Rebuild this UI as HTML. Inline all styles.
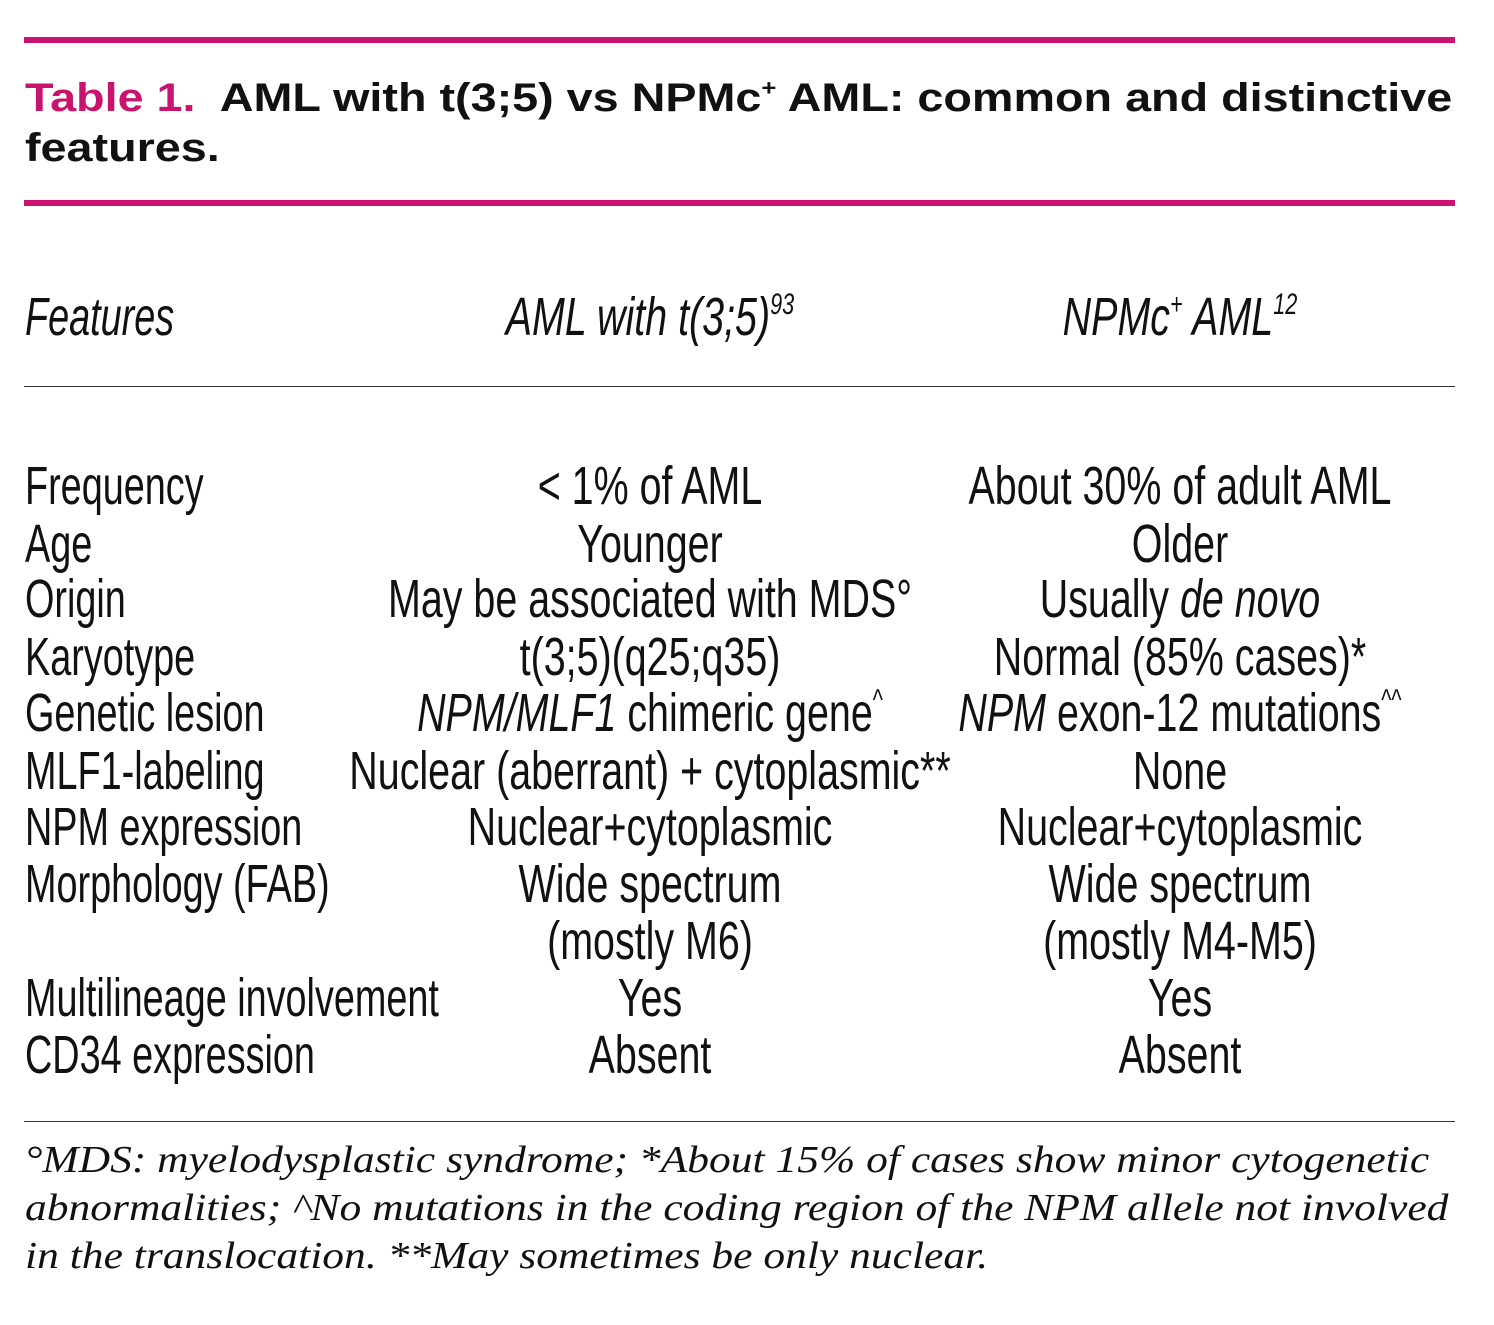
<!DOCTYPE html>
<html><head><meta charset="utf-8"><style>
html,body{margin:0;padding:0;background:#fff;}
body{width:1494px;height:1325px;position:relative;overflow:hidden;color:#111;font-family:"Liberation Sans",sans-serif;}
.bar{position:absolute;left:24px;width:1431px;height:6px;background:#c8146e;}
.thin{position:absolute;left:24px;width:1431px;height:1px;background:#333;}
.t{position:absolute;font-weight:bold;font-size:40px;line-height:40px;white-space:nowrap;left:25px;transform:scaleX(1.168);transform-origin:0 0;}
.r{position:absolute;height:60px;line-height:60px;font-size:54px;white-space:nowrap;}
.l{left:25px;transform:scaleX(0.70);transform-origin:0 0;}
.c2{left:150px;width:1000px;text-align:center;transform:scaleX(0.73);transform-origin:500px 0;}
.c3{left:680px;width:1000px;text-align:center;transform:scaleX(0.73);transform-origin:500px 0;}
sup{font-size:0.55em;line-height:0;vertical-align:0.7em;}
.f{position:absolute;left:25px;font-family:"Liberation Serif",serif;font-style:italic;font-size:38px;line-height:48px;white-space:nowrap;transform:scaleX(1.145);transform-origin:0 0;}
</style></head><body>
<div class="bar" style="top:37px"></div>
<div class="t" style="top:78px"><span style="color:#c8146e">Table 1.</span>&nbsp; AML with t(3;5) vs NPMc<sup>+</sup> AML: common and distinctive</div>
<div class="t" style="top:128px">features.</div>
<div class="bar" style="top:200px"></div>

<div class="r l" style="top:287px;font-style:italic">Features</div>
<div class="r c2" style="top:287px;font-style:italic">AML with t(3;5)<sup>93</sup></div>
<div class="r c3" style="top:287px;font-style:italic">NPMc<sup>+</sup> AML<sup>12</sup></div>
<div class="thin" style="top:386px"></div>

<div class="r l" style="top:456px">Frequency</div>
<div class="r c2" style="top:456px">&lt; 1% of AML</div>
<div class="r c3" style="top:456px">About 30% of adult AML</div>

<div class="r l" style="top:514px">Age</div>
<div class="r c2" style="top:514px">Younger</div>
<div class="r c3" style="top:514px">Older</div>

<div class="r l" style="top:569px">Origin</div>
<div class="r c2" style="top:569px">May be associated with MDS°</div>
<div class="r c3" style="top:569px">Usually <i>de novo</i></div>

<div class="r l" style="top:627px">Karyotype</div>
<div class="r c2" style="top:627px">t(3;5)(q25;q35)</div>
<div class="r c3" style="top:627px">Normal (85% cases)*</div>

<div class="r l" style="top:683px">Genetic lesion</div>
<div class="r c2" style="top:683px"><i>NPM/MLF1</i> chimeric gene<sup>^</sup></div>
<div class="r c3" style="top:683px"><i>NPM</i> exon-12 mutations<sup>^^</sup></div>

<div class="r l" style="top:741px">MLF1-labeling</div>
<div class="r c2" style="top:741px">Nuclear (aberrant) + cytoplasmic**</div>
<div class="r c3" style="top:741px">None</div>

<div class="r l" style="top:797px">NPM expression</div>
<div class="r c2" style="top:797px">Nuclear+cytoplasmic</div>
<div class="r c3" style="top:797px">Nuclear+cytoplasmic</div>

<div class="r l" style="top:854px">Morphology (FAB)</div>
<div class="r c2" style="top:854px">Wide spectrum</div>
<div class="r c3" style="top:854px">Wide spectrum</div>

<div class="r c2" style="top:911px">(mostly M6)</div>
<div class="r c3" style="top:911px">(mostly M4-M5)</div>

<div class="r l" style="top:968px">Multilineage involvement</div>
<div class="r c2" style="top:968px">Yes</div>
<div class="r c3" style="top:968px">Yes</div>

<div class="r l" style="top:1025px">CD34 expression</div>
<div class="r c2" style="top:1025px">Absent</div>
<div class="r c3" style="top:1025px">Absent</div>

<div class="thin" style="top:1121px"></div>
<div class="f" style="top:1136px">°MDS: myelodysplastic syndrome; *About 15% of cases show minor cytogenetic</div>
<div class="f" style="top:1184px">abnormalities; ^No mutations in the coding region of the NPM allele not involved</div>
<div class="f" style="top:1232px">in the translocation. **May sometimes be only nuclear.</div>
</body></html>
